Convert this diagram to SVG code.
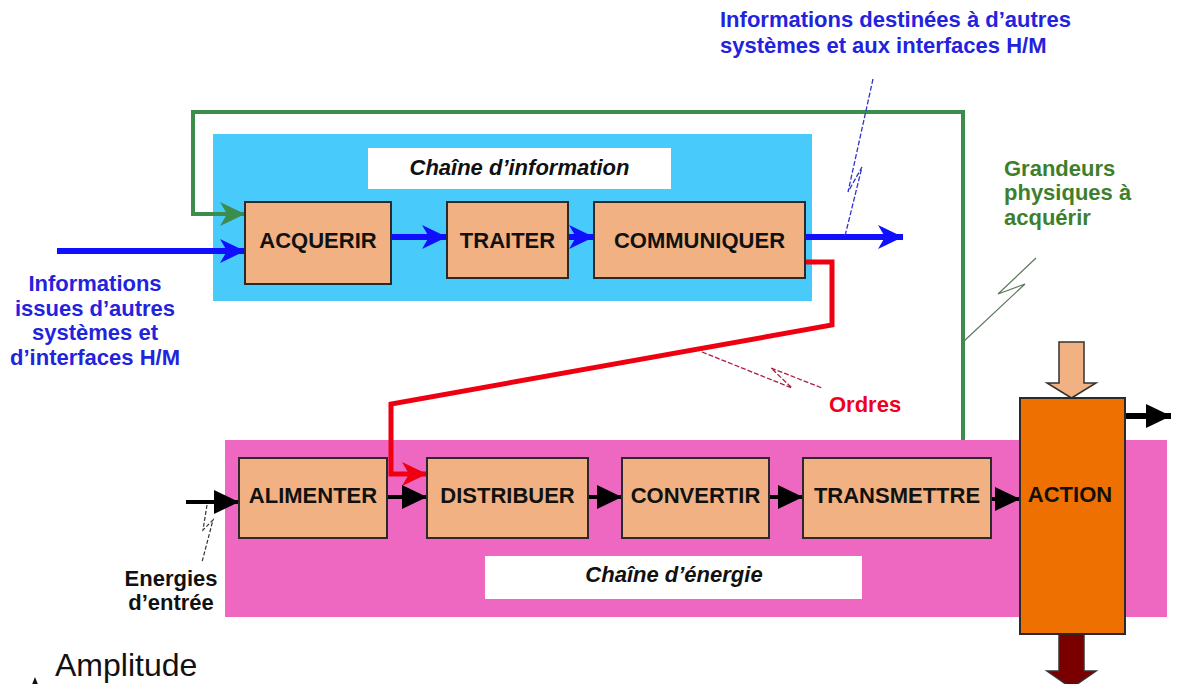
<svg xmlns="http://www.w3.org/2000/svg" width="1178" height="684" viewBox="0 0 1178 684">
<defs>
<style>
text{font-family:"Liberation Sans",Arial,sans-serif;font-weight:bold;font-size:22px}
.lbl{fill:#111;text-anchor:middle}
.box{fill:#F1B182;stroke:#2a2a2a;stroke-width:2}
.ttl{font-style:italic;fill:#111;text-anchor:middle}
.blueT{fill:#2323dd}
.greenT{fill:#3d7f2c}
.blk{fill:#111}
.bl{stroke:#1010ff;stroke-width:6;fill:none}
.bk{stroke:#000;stroke-width:4;fill:none}
.gr{stroke:#3c8c4c;stroke-width:4;fill:none}
.rd{stroke:#ee0010;stroke-width:5;fill:none}
</style>
<marker id="mBlue" markerUnits="userSpaceOnUse" markerWidth="28" markerHeight="28" refX="25" refY="12" orient="auto" viewBox="0 0 28 28" overflow="visible">
<path d="M0,0 L25,12 L0,24 L7,12 Z" fill="#1010ff"/>
</marker>
<marker id="mGreen" markerUnits="userSpaceOnUse" markerWidth="28" markerHeight="28" refX="25" refY="12" orient="auto" viewBox="0 0 28 28" overflow="visible">
<path d="M0,0 L25,12 L0,24 L7,12 Z" fill="#3c8c4c"/>
</marker>
<marker id="mRed" markerUnits="userSpaceOnUse" markerWidth="28" markerHeight="28" refX="25" refY="12" orient="auto" viewBox="0 0 28 28" overflow="visible">
<path d="M0,0 L25,12 L0,24 L7,12 Z" fill="#ee0010"/>
</marker>
<marker id="mBlack" markerUnits="userSpaceOnUse" markerWidth="28" markerHeight="28" refX="25" refY="12" orient="auto" viewBox="0 0 28 28" overflow="visible">
<path d="M0,0 L25,12 L0,24 Z" fill="#000"/>
</marker>
</defs>
<rect width="1178" height="684" fill="#fff"/>

<g id="chaine-information">
<rect x="213" y="134" width="599" height="167" fill="#48CBFA"/>
<rect x="368" y="148" width="303" height="41" fill="#fff"/>
<text class="ttl" x="519.5" y="175">Chaîne d’information</text>
</g>
<g id="chaine-energie">
<rect x="225" y="440" width="942" height="177" fill="#EE68C2"/>
<rect x="485" y="556" width="377" height="43" fill="#fff"/>
<text class="ttl" x="674" y="582">Chaîne d’énergie</text>
</g>

<g id="connectors">
<polyline class="gr" points="963,440 963,112 193,112 193,214 245,214" marker-end="url(#mGreen)"/>
<line class="bl" x1="57" y1="251" x2="245" y2="251" marker-end="url(#mBlue)"/>
<line class="bl" x1="391" y1="237" x2="447" y2="237" marker-end="url(#mBlue)"/>
<line class="bl" x1="568" y1="237" x2="594" y2="237" marker-end="url(#mBlue)"/>
<line class="bl" x1="805" y1="237" x2="903" y2="237" marker-end="url(#mBlue)"/>
<polyline class="rd" points="805,262 832,262 832,325 391,404 391,474 427,474" marker-end="url(#mRed)"/>
<line class="bk" x1="186" y1="502" x2="239" y2="502" marker-end="url(#mBlack)"/>
<line class="bk" x1="387" y1="497" x2="427" y2="497" marker-end="url(#mBlack)"/>
<line class="bk" x1="588" y1="497" x2="622" y2="497" marker-end="url(#mBlack)"/>
<line class="bk" x1="769" y1="497" x2="803" y2="497" marker-end="url(#mBlack)"/>
<line class="bk" x1="991" y1="499" x2="1020" y2="499" marker-end="url(#mBlack)"/>
<line x1="1125" y1="416" x2="1171" y2="416" stroke="#000" stroke-width="6" marker-end="url(#mBlack)"/>
<polygon points="1059,342 1084,342 1084,383 1096,383 1071.5,398 1047,383 1059,383" fill="#F1B182" stroke="#333" stroke-width="1.5"/>
<polygon points="1059,634 1084,634 1084,671 1096,671 1071.5,688 1047,671 1059,671" fill="#7a0000" stroke="#333" stroke-width="1.5"/>
<polyline points="873,79 848,192 862,167 845,236" fill="none" stroke="#3333cc" stroke-width="1.3" stroke-dasharray="5,2"/>
<polyline points="1036,258 998,294 1025,284 963,342" fill="none" stroke="#5a7a5a" stroke-width="1.2"/>
<polyline points="702,352 792,388 771,368 822,388" fill="none" stroke="#aa2040" stroke-width="1.3" stroke-dasharray="5,2"/>
<polyline points="207,505 203,530 213,520 202,562" fill="none" stroke="#333" stroke-width="1.2" stroke-dasharray="4,2"/>
</g>

<g id="acquerir"><rect class="box" x="245" y="202" width="146" height="82"/><text class="lbl" x="318" y="248">ACQUERIR</text></g>
<g id="traiter"><rect class="box" x="447" y="202" width="121" height="76"/><text class="lbl" x="507.5" y="248">TRAITER</text></g>
<g id="communiquer"><rect class="box" x="594" y="202" width="211" height="76"/><text class="lbl" x="699.5" y="248">COMMUNIQUER</text></g>
<g id="alimenter"><rect class="box" x="239" y="458" width="148" height="80"/><text class="lbl" x="313" y="503">ALIMENTER</text></g>
<g id="distribuer"><rect class="box" x="427" y="458" width="161" height="80"/><text class="lbl" x="507.5" y="503">DISTRIBUER</text></g>
<g id="convertir"><rect class="box" x="622" y="458" width="147" height="80"/><text class="lbl" x="695.5" y="503">CONVERTIR</text></g>
<g id="transmettre"><rect class="box" x="803" y="458" width="188" height="80"/><text class="lbl" x="897" y="503">TRANSMETTRE</text></g>
<g id="action"><rect x="1020" y="398" width="105" height="236" fill="#EE7000" stroke="#2a2a2a" stroke-width="2"/><text class="lbl" x="1070" y="502">ACTION</text></g>

<g id="labels">
<text class="blueT" x="720" y="27">Informations destinées à d’autres</text>
<text class="blueT" x="720" y="53">systèmes et aux interfaces H/M</text>
<text class="greenT" x="1004" y="176">Grandeurs</text>
<text class="greenT" x="1004" y="200">physiques à</text>
<text class="greenT" x="1004" y="225">acquérir</text>
<g class="blueT" text-anchor="middle">
<text x="95" y="291">Informations</text>
<text x="95" y="316">issues d’autres</text>
<text x="95" y="340">systèmes et</text>
<text x="95" y="365">d’interfaces H/M</text>
</g>
<text x="829" y="412" fill="#ee0020">Ordres</text>
<text class="blk" x="171" y="586" text-anchor="middle">Energies</text>
<text class="blk" x="171" y="610" text-anchor="middle">d’entrée</text>
<text x="55" y="676" style="font-weight:normal;font-size:32px" fill="#111">Amplitude</text>
<polygon points="29,692 35,677 41,692" fill="#111"/>
</g>
</svg>
